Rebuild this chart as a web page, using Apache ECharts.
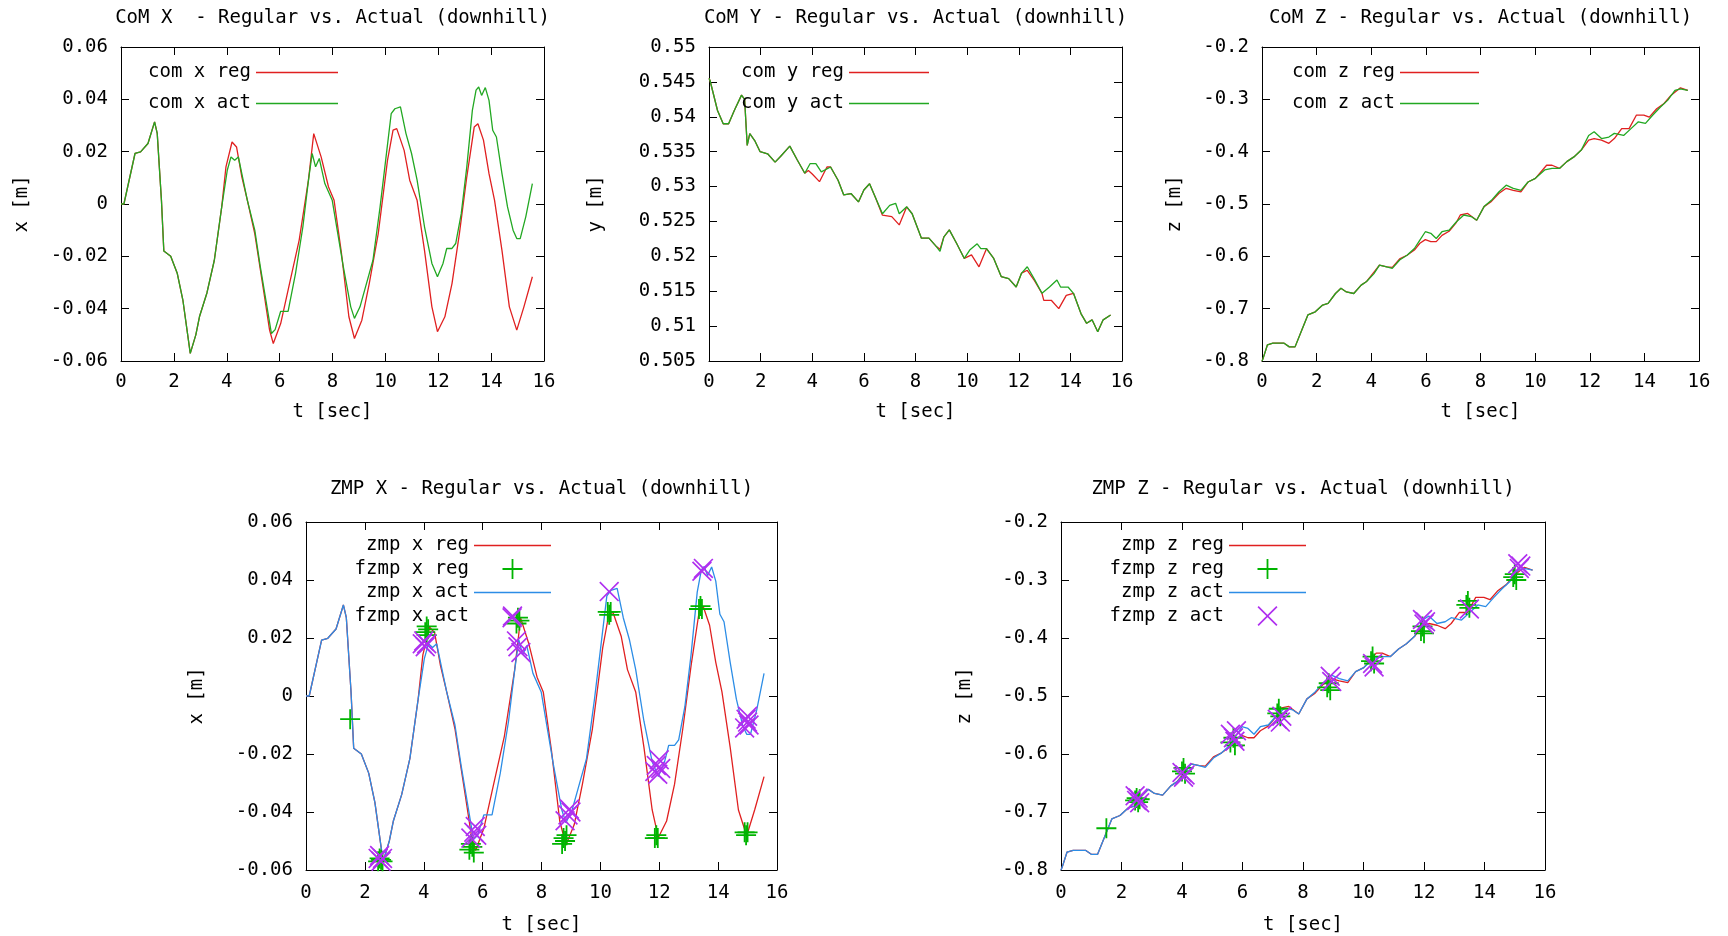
<!DOCTYPE html>
<html><head><meta charset="utf-8">
<script src="https://cdn.jsdelivr.net/npm/echarts@6/dist/echarts.min.js"></script>
<style>html,body{margin:0;padding:0;background:#fff}#c{width:1728px;height:936px}</style>
</head><body><div id="c"></div>
<script>
// ---------------- data (t [sec], value) ----------------
const xTickRange = [0, 16, 2];

const comXAct = [[0,0],[0.11,0],[0.53,0.0193],[0.74,0.0199],[1.02,0.0231],[1.27,0.0314],[1.37,0.027],[1.53,0.0014],[1.62,-0.018],[1.88,-0.020],[2.13,-0.0266],[2.34,-0.0367],[2.62,-0.0571],[2.83,-0.050],[2.97,-0.043],[3.25,-0.034],[3.53,-0.0215],[3.81,-0.0011],[4.02,0.0129],[4.16,0.018],[4.3,0.0167],[4.44,0.018],[4.57,0.0116],[4.78,0.0014],[5.06,-0.010],[5.27,-0.024],[5.48,-0.0367],[5.69,-0.0495],[5.83,-0.048],[6.04,-0.041],[6.32,-0.041],[6.6,-0.0266],[6.88,-0.0087],[7.09,0.009],[7.23,0.0193],[7.36,0.0142],[7.5,0.0174],[7.71,0.0078],[7.99,0.0014],[8.2,-0.0113],[8.41,-0.024],[8.69,-0.0393],[8.83,-0.0437],[9.04,-0.0393],[9.25,-0.0317],[9.53,-0.0215],[9.8,-0.0011],[10.01,0.0167],[10.22,0.0345],[10.36,0.0364],[10.57,0.0371],[10.78,0.0269],[10.99,0.0193],[11.2,0.0091],[11.48,-0.0087],[11.76,-0.0227],[11.97,-0.0278],[12.18,-0.0227],[12.32,-0.017],[12.52,-0.017],[12.66,-0.0151],[12.87,-0.0037],[13.08,0.0142],[13.29,0.0358],[13.43,0.0435],[13.53,0.0447],[13.64,0.0415],[13.78,0.0445],[13.92,0.0396],[14.06,0.0282],[14.2,0.0256],[14.41,0.0116],[14.62,-0.0011],[14.83,-0.010],[14.97,-0.0132],[15.1,-0.0132],[15.31,-0.0049],[15.56,0.0078]];

const comXReg = [[0,0],[0.11,0],[0.53,0.0193],[0.74,0.0199],[1.02,0.0231],[1.27,0.0314],[1.37,0.027],[1.53,0.0014],[1.62,-0.018],[1.88,-0.020],[2.13,-0.0266],[2.34,-0.0367],[2.62,-0.0571],[2.83,-0.050],[2.97,-0.043],[3.25,-0.034],[3.53,-0.0215],[3.81,-0.0011],[3.97,0.0142],[4.2,0.0237],[4.37,0.0218],[4.57,0.0104],[4.78,0.0014],[5.06,-0.0113],[5.41,-0.0342],[5.62,-0.0482],[5.76,-0.0533],[6.04,-0.0457],[6.32,-0.0329],[6.74,-0.0138],[7.09,0.0091],[7.29,0.0269],[7.57,0.018],[7.85,0.0065],[8.06,0.0014],[8.34,-0.0189],[8.62,-0.0431],[8.83,-0.0514],[9.11,-0.0444],[9.39,-0.0304],[9.73,-0.0113],[10.08,0.0167],[10.29,0.0282],[10.43,0.0288],[10.71,0.0205],[10.92,0.0091],[11.2,0.0014],[11.48,-0.0177],[11.76,-0.0393],[11.97,-0.0488],[12.25,-0.0431],[12.52,-0.0304],[12.8,-0.0113],[13.08,0.0104],[13.36,0.0294],[13.5,0.0307],[13.71,0.0244],[13.92,0.0116],[14.13,0.0014],[14.41,-0.0177],[14.69,-0.0393],[14.97,-0.0482],[15.24,-0.0393],[15.56,-0.0278]];

const comYAct = [[0,0.5455],[0.04,0.5452],[0.33,0.5409],[0.55,0.539],[0.76,0.539],[0.98,0.5409],[1.26,0.5431],[1.38,0.5425],[1.44,0.5385],[1.48,0.5359],[1.58,0.5376],[1.77,0.5366],[1.98,0.535],[2.27,0.5347],[2.56,0.5335],[2.77,0.5343],[3.13,0.5358],[3.42,0.5338],[3.71,0.5319],[3.92,0.5333],[4.14,0.5333],[4.35,0.5321],[4.71,0.5328],[5.0,0.5309],[5.22,0.5288],[5.5,0.529],[5.79,0.5278],[6.0,0.5295],[6.22,0.5304],[6.44,0.5285],[6.72,0.5261],[7.0,0.5273],[7.23,0.5276],[7.37,0.5261],[7.66,0.5271],[7.87,0.5261],[8.23,0.5226],[8.52,0.5226],[8.81,0.5214],[8.95,0.5207],[9.1,0.5228],[9.31,0.5238],[9.6,0.5218],[9.89,0.5197],[10.1,0.5209],[10.39,0.5218],[10.53,0.5211],[10.75,0.5211],[11.03,0.5197],[11.32,0.5171],[11.61,0.5168],[11.9,0.5156],[12.11,0.5176],[12.33,0.5185],[12.61,0.5167],[12.9,0.5147],[13.19,0.5156],[13.48,0.5166],[13.62,0.5156],[13.91,0.5156],[14.12,0.5147],[14.41,0.5118],[14.63,0.5104],[14.84,0.5109],[15.06,0.5092],[15.27,0.5109],[15.56,0.5116]];

const comYReg = [[0,0.5455],[0.04,0.5452],[0.33,0.5409],[0.55,0.539],[0.76,0.539],[0.98,0.5409],[1.26,0.5431],[1.38,0.5425],[1.44,0.5385],[1.48,0.5359],[1.58,0.5376],[1.77,0.5366],[1.98,0.535],[2.27,0.5347],[2.56,0.5335],[2.77,0.5343],[3.13,0.5358],[3.42,0.5338],[3.71,0.5319],[3.85,0.5323],[4.0,0.5318],[4.28,0.5307],[4.57,0.5328],[4.71,0.5328],[5.0,0.5309],[5.22,0.5288],[5.5,0.529],[5.79,0.5278],[6.0,0.5295],[6.22,0.5304],[6.44,0.5285],[6.72,0.5259],[7.08,0.5257],[7.37,0.5245],[7.66,0.5271],[7.87,0.5261],[8.23,0.5226],[8.52,0.5226],[8.81,0.5214],[8.95,0.5210],[9.1,0.5228],[9.31,0.5238],[9.6,0.5218],[9.89,0.5197],[10.17,0.5202],[10.46,0.5185],[10.75,0.5211],[11.03,0.5197],[11.32,0.5171],[11.61,0.5168],[11.9,0.5156],[12.11,0.5176],[12.33,0.5180],[12.61,0.5165],[12.9,0.5147],[12.97,0.5137],[13.26,0.5137],[13.55,0.5125],[13.84,0.5144],[14.12,0.5147],[14.41,0.5118],[14.63,0.5104],[14.84,0.5109],[15.06,0.5092],[15.27,0.5109],[15.56,0.5116]];

const comZAct = [[0,-0.8],[0.04,-0.795],[0.2,-0.769],[0.4,-0.766],[0.81,-0.766],[1.0,-0.773],[1.21,-0.773],[1.48,-0.738],[1.68,-0.712],[1.95,-0.706],[2.22,-0.693],[2.42,-0.69],[2.69,-0.671],[2.89,-0.661],[3.09,-0.668],[3.36,-0.671],[3.63,-0.655],[3.83,-0.648],[4.1,-0.633],[4.3,-0.617],[4.57,-0.62],[4.77,-0.623],[5.04,-0.607],[5.31,-0.598],[5.58,-0.585],[5.78,-0.569],[5.98,-0.553],[6.18,-0.556],[6.38,-0.566],[6.59,-0.553],[6.85,-0.55],[7.12,-0.534],[7.39,-0.521],[7.66,-0.524],[7.86,-0.531],[8.13,-0.505],[8.4,-0.493],[8.67,-0.477],[8.94,-0.464],[9.2,-0.47],[9.48,-0.474],[9.74,-0.458],[10.01,-0.451],[10.35,-0.435],[10.62,-0.432],[10.89,-0.432],[11.16,-0.419],[11.42,-0.41],[11.69,-0.397],[11.96,-0.369],[12.16,-0.362],[12.43,-0.375],[12.7,-0.372],[12.9,-0.365],[13.24,-0.369],[13.51,-0.356],[13.78,-0.343],[14.04,-0.346],[14.31,-0.33],[14.58,-0.315],[14.85,-0.302],[15.12,-0.283],[15.32,-0.28],[15.59,-0.283]];

const comZReg = [[0,-0.8],[0.04,-0.795],[0.2,-0.769],[0.4,-0.766],[0.81,-0.766],[1.0,-0.773],[1.21,-0.773],[1.48,-0.738],[1.68,-0.712],[1.95,-0.706],[2.22,-0.693],[2.42,-0.69],[2.69,-0.671],[2.89,-0.661],[3.09,-0.668],[3.36,-0.671],[3.63,-0.655],[3.83,-0.648],[4.1,-0.630],[4.3,-0.617],[4.57,-0.62],[4.77,-0.621],[5.04,-0.605],[5.31,-0.598],[5.58,-0.588],[5.78,-0.575],[5.98,-0.568],[6.18,-0.572],[6.38,-0.572],[6.59,-0.56],[6.85,-0.552],[7.12,-0.535],[7.26,-0.521],[7.53,-0.518],[7.86,-0.531],[8.13,-0.505],[8.4,-0.495],[8.67,-0.48],[8.94,-0.47],[9.2,-0.474],[9.48,-0.477],[9.74,-0.458],[10.01,-0.451],[10.42,-0.426],[10.62,-0.426],[10.89,-0.432],[11.16,-0.419],[11.42,-0.41],[11.69,-0.397],[11.96,-0.378],[12.16,-0.375],[12.43,-0.378],[12.7,-0.384],[12.9,-0.375],[13.17,-0.356],[13.44,-0.356],[13.71,-0.33],[13.98,-0.33],[14.18,-0.334],[14.45,-0.318],[14.72,-0.308],[14.98,-0.292],[15.32,-0.278],[15.59,-0.283]];

// ZMP lines are the same traces as the CoM ones in the picture
const zmpXReg = comXReg;
const zmpXAct = comXAct;
const zmpZReg = comZReg;
const zmpZAct = comZAct;

const fzmpXReg = [[1.5,-0.008],[2.45,-0.057],[2.5,-0.056],[2.55,-0.0565],[2.6,-0.057],[4.05,0.022],[4.1,0.024],[4.15,0.023],[4.1,0.021],[5.55,-0.053],[5.6,-0.051],[5.65,-0.052],[5.7,-0.054],[7.15,0.025],[7.2,0.027],[7.25,0.026],[8.7,-0.051],[8.75,-0.049],[8.8,-0.050],[8.85,-0.048],[10.25,0.029],[10.3,0.028],[10.35,0.029],[11.85,-0.049],[11.9,-0.048],[11.95,-0.049],[13.35,0.030],[13.4,0.031],[13.45,0.030],[14.9,-0.047],[14.95,-0.048],[15.0,-0.047]];
const fzmpXAct = [[2.45,-0.056],[2.5,-0.055],[2.55,-0.057],[2.6,-0.056],[3.95,0.018],[4.0,0.019],[4.05,0.017],[4.1,0.018],[5.6,-0.049],[5.7,-0.047],[5.75,-0.045],[5.8,-0.048],[7.0,0.027],[7.15,0.019],[7.2,0.017],[7.3,0.015],[8.8,-0.043],[8.9,-0.041],[8.95,-0.039],[9.0,-0.040],[10.3,0.036],[11.85,-0.026],[11.9,-0.024],[11.95,-0.027],[12.0,-0.022],[12.05,-0.025],[13.45,0.043],[13.5,0.044],[14.9,-0.011],[14.95,-0.008],[15.0,-0.009],[15.05,-0.010],[15.0,-0.007]];
const fzmpZReg = [[1.5,-0.728],[2.45,-0.680],[2.5,-0.676],[2.55,-0.683],[2.6,-0.678],[4.0,-0.630],[4.05,-0.624],[4.1,-0.634],[5.6,-0.580],[5.7,-0.572],[5.75,-0.585],[7.15,-0.530],[7.2,-0.522],[7.25,-0.535],[8.8,-0.485],[8.85,-0.478],[8.9,-0.490],[10.25,-0.440],[10.3,-0.432],[10.35,-0.444],[11.9,-0.388],[11.95,-0.380],[12.0,-0.392],[13.4,-0.343],[13.45,-0.336],[13.5,-0.348],[14.95,-0.295],[15.0,-0.290],[15.05,-0.300]];
const fzmpZAct = [[2.45,-0.672],[2.5,-0.680],[2.55,-0.676],[2.6,-0.684],[4.0,-0.632],[4.05,-0.640],[4.1,-0.636],[5.6,-0.566],[5.7,-0.572],[5.8,-0.560],[5.75,-0.578],[7.15,-0.540],[7.25,-0.545],[7.3,-0.535],[8.9,-0.466],[8.95,-0.475],[10.3,-0.444],[10.35,-0.450],[11.95,-0.368],[12.0,-0.376],[12.05,-0.372],[13.5,-0.350],[15.1,-0.272],[15.15,-0.280],[15.2,-0.276]];

// ---------------- styling ----------------
const FONT = 'DejaVu Sans Mono';
const FS = 19;
const RED = '#e02020', GREEN = '#22a822', BLUE = '#2c8de6', MGREEN = '#00b400', PURPLE = '#b030f0';
const PLUS = 'path://M9.1,0H10.9V9.1H20V10.9H10.9V20H9.1V10.9H0V9.1H9.1Z';
const CROSS = 'path://M0,1.2L1.2,0L10,8.8L18.8,0L20,1.2L11.2,10L20,18.8L18.8,20L10,11.2L1.2,20L0,18.8L8.8,10Z';
const LINEICON = 'path://M0,0H80V1.4H0Z';

const panels = [
  {title:'CoM X  - Regular vs. Actual (downhill)', box:[121,47,423,314], y:[-0.06,0.06,0.02], yName:'x [m]', yGap:89, xGap:42, xMargin:12, titleTop:9,
   legend:{right:1390, top:63, w:82, gap:12},
   series:[['com x reg','line',comXReg,RED],['com x act','line',comXAct,GREEN]]},
  {title:'CoM Y - Regular vs. Actual (downhill)', box:[709,47,413,314], y:[0.505,0.55,0.005], yName:'y [m]', yGap:103, xGap:42, xMargin:12, titleTop:9,
   legend:{right:799, top:63, w:80, gap:12},
   series:[['com y reg','line',comYReg,RED],['com y act','line',comYAct,GREEN]]},
  {title:'CoM Z - Regular vs. Actual (downhill)', box:[1262,47,437,314], y:[-0.8,-0.2,0.1], yName:'z [m]', yGap:77, xGap:42, xMargin:12, titleTop:9,
   legend:{right:249, top:63, w:79, gap:12},
   series:[['com z reg','line',comZReg,RED],['com z act','line',comZAct,GREEN]]},
  {title:'ZMP X - Regular vs. Actual (downhill)', box:[306,522,471,348], y:[-0.06,0.06,0.02], yName:'x [m]', yGap:99, xGap:46, xMargin:14, titleTop:480,
   legend:{right:1177, top:536, w:77, gap:4},
   series:[['zmp x reg','line',zmpXReg,RED],['fzmp x reg','scatter',fzmpXReg,MGREEN,PLUS],['zmp x act','line',zmpXAct,BLUE],['fzmp x act','scatter',fzmpXAct,PURPLE,CROSS]]},
  {title:'ZMP Z - Regular vs. Actual (downhill)', box:[1061,522,484,348], y:[-0.8,-0.2,0.1], yName:'z [m]', yGap:86, xGap:46, xMargin:14, titleTop:480,
   legend:{right:422, top:536, w:77, gap:4},
   series:[['zmp z reg','line',zmpZReg,RED],['fzmp z reg','scatter',fzmpZReg,MGREEN,PLUS],['zmp z act','line',zmpZAct,BLUE],['fzmp z act','scatter',fzmpZAct,PURPLE,CROSS]]}
];

const txt = {fontFamily: FONT, fontSize: FS, color: '#000'};
const option = {animation:false, backgroundColor:'#fff', title:[], grid:[], xAxis:[], yAxis:[], legend:[], series:[]};

panels.forEach((p, i) => {
  const [l, t, w, h] = p.box;
  option.grid.push({left:l, top:t, width:w, height:h, containLabel:false, outerBoundsMode:'none', show:false});
  option.title.push({text:p.title, left:l + w/2, top:p.titleTop, textAlign:'center', padding:0,
    textStyle:{fontFamily:FONT, fontSize:FS, fontWeight:'normal', color:'#000'}});
  const axLine = {show:true, onZero:false, lineStyle:{color:'#000', width:1}};
  const tick = {show:true, inside:true, length:8, lineStyle:{color:'#000', width:1}};
  option.xAxis.push({type:'value', gridIndex:i, position:'bottom', min:xTickRange[0], max:xTickRange[1], interval:xTickRange[2],
    name:'t [sec]', nameLocation:'middle', nameGap:p.xGap, nameTextStyle:txt,
    axisLine:axLine, axisTick:tick, splitLine:{show:false}, axisLabel:Object.assign({margin:p.xMargin, showMinLabel:true, showMaxLabel:true}, txt)});
  option.xAxis.push({type:'value', gridIndex:i, position:'top', min:xTickRange[0], max:xTickRange[1], interval:xTickRange[2],
    axisLine:axLine, axisTick:tick, splitLine:{show:false}, axisLabel:{show:false}});
  option.yAxis.push({type:'value', gridIndex:i, position:'left', min:p.y[0], max:p.y[1], interval:p.y[2],
    name:p.yName, nameLocation:'middle', nameGap:p.yGap, nameRotate:90, nameTextStyle:txt,
    axisLine:axLine, axisTick:tick, splitLine:{show:false}, axisLabel:Object.assign({margin:13, showMinLabel:true, showMaxLabel:true}, txt)});
  option.yAxis.push({type:'value', gridIndex:i, position:'right', min:p.y[0], max:p.y[1], interval:p.y[2],
    axisLine:axLine, axisTick:tick, splitLine:{show:false}, axisLabel:{show:false}});
  option.legend.push({orient:'vertical', align:'right', right:p.legend.right, top:p.legend.top, padding:0,
    itemWidth:p.legend.w, itemHeight:20, itemGap:p.legend.gap, selectedMode:false, textStyle:txt,
    data:p.series.map(s => s[1] === 'line'
      ? {name:s[0], icon:LINEICON, itemStyle:{color:s[3]}}
      : {name:s[0]})});
  p.series.forEach(s => {
    const [name, type, data, color, sym] = s;
    if (type === 'line') {
      option.series.push({type:'line', name, data, xAxisIndex:2*i, yAxisIndex:2*i, symbol:'none', showSymbol:false,
        lineStyle:{color, width:1.3}, itemStyle:{color}, z:2});
    } else {
      option.series.push({type:'scatter', name, data, xAxisIndex:2*i, yAxisIndex:2*i, symbol:sym, symbolSize:20,
        itemStyle:{color, opacity:1}, z:3});
    }
  });
});

const chart = echarts.init(document.getElementById('c'), null, {renderer:'canvas', width:1728, height:936});
chart.setOption(option);
</script></body></html>
